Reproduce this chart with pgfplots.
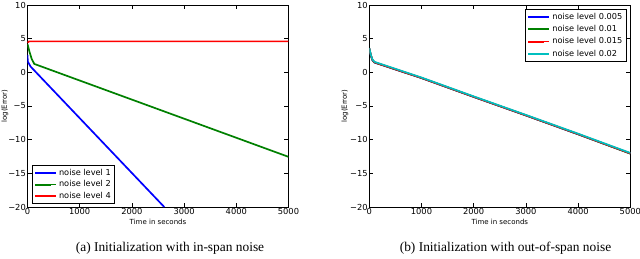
\documentclass[border=0pt]{standalone}
\usepackage{fontspec}
\setmainfont{DejaVu Sans}
\newfontfamily\capfont{Liberation Serif}
\usepackage{pgfplots}
\pgfplotsset{compat=1.18}
\definecolor{mplblue}{rgb}{0,0,1}
\definecolor{mplgreen}{rgb}{0,0.5,0}
\definecolor{mplred}{rgb}{1,0,0}
\definecolor{mplcyan}{rgb}{0,0.75,0.75}
\pgfplotsset{
  myax/.style={
    scale only axis, width=261pt, height=202pt,
    xmin=0, xmax=5000, ymin=-20, ymax=10,
    xtick={0,1000,2000,3000,4000,5000},
    xticklabels={0,1000,2000,3000,4000,5000},
    ytick={-20,-15,-10,-5,0,5,10},
    yticklabels={−20,−15,−10,−5,0,5,10},
    tick align=inside, major tick length=4pt,
    tick style={black, line width=0.5pt},
    axis line style={black, line width=0.6pt},
    tick label style={font=\fontsize{8.3}{9}\selectfont, inner sep=1.5pt},
    scaled x ticks=false,
    xlabel={Time in seconds}, ylabel={log(Error)},
    label style={font=\fontsize{7}{8}\selectfont},
    xlabel style={at={(axis description cs:0.5,-0.074)}, anchor=center},
    legend cell align=left,
    legend image code/.code={\draw[#1, line width=1.9pt] (0pt,0pt) -- (16pt,0pt); \path (0pt,0pt) -- (21pt,0pt);},
    every axis plot/.append style={line width=1.7pt, no markers},
  }
}
\begin{document}
\begin{tikzpicture}
\path[use as bounding box] (0,0) rectangle (640pt,258pt);
\begin{axis}[myax, at={(27.5pt,51pt)}, anchor=south west,
  ylabel style={at={(axis description cs:-0.086,0.5)}, anchor=center},
  legend style={at={(0.017,0.015)}, anchor=south west, draw=black, line width=0.6pt,
    font=\fontsize{8.2}{9}\selectfont, inner xsep=2pt, inner ysep=1.5pt, row sep=0pt}]
\addplot[mplblue] coordinates {(0,2.6) (5,1.6) (60,0.85) (2620,-20)};
\addlegendentry{noise level 1}
\addplot[mplgreen] coordinates {(0,4.2) (40,3.0) (80,2.0) (130,1.25) (5000,-12.55)};
\addlegendentry{noise level 2}
\addplot[mplred] coordinates {(0,4.4) (30,4.6) (5000,4.6)};
\addlegendentry{noise level 4}
\end{axis}
\begin{axis}[myax, at={(369.3pt,51pt)}, anchor=south west,
  ylabel style={at={(axis description cs:-0.093,0.5)}, anchor=center},
  legend style={at={(0.986,0.979)}, anchor=north east, draw=black, line width=0.6pt,
    font=\fontsize{8.2}{9}\selectfont, inner xsep=2pt, inner ysep=1.5pt, row sep=0.6pt}]
\addplot[mplblue] coordinates {(0,3.55) (30,2.5) (60,1.8) (100,1.45) (200,1.2) (1000,-0.85) (2000,-3.65) (3000,-6.4) (4000,-9.2) (5000,-12.05)};
\addlegendentry{noise level 0.005}
\addplot[mplgreen] coordinates {(0,3.55) (30,2.52) (60,1.82) (100,1.47) (200,1.21) (1000,-0.84) (2000,-3.64) (3000,-6.39) (4000,-9.19) (5000,-12.07)};
\addlegendentry{noise level 0.01}
\addplot[mplred] coordinates {(0,3.57) (30,2.55) (60,1.85) (100,1.5) (200,1.23) (1000,-0.83) (2000,-3.63) (3000,-6.38) (4000,-9.17) (5000,-12.04)};
\addlegendentry{noise level 0.015}
\addplot[mplcyan] coordinates {(0,3.6) (30,2.6) (60,1.9) (100,1.56) (200,1.3) (1000,-0.77) (2000,-3.57) (3000,-6.32) (4000,-9.11) (5000,-11.97)};
\addlegendentry{noise level 0.02}
\end{axis}
\node[font=\capfont\fontsize{13.4}{15}\selectfont, anchor=center] at (170pt,10pt) {(a)\ Initialization with in-span noise};
\node[font=\capfont\fontsize{13.4}{15}\selectfont, anchor=center] at (505.5pt,10pt) {(b)\ Initialization with out-of-span noise};
\end{tikzpicture}
\end{document}
